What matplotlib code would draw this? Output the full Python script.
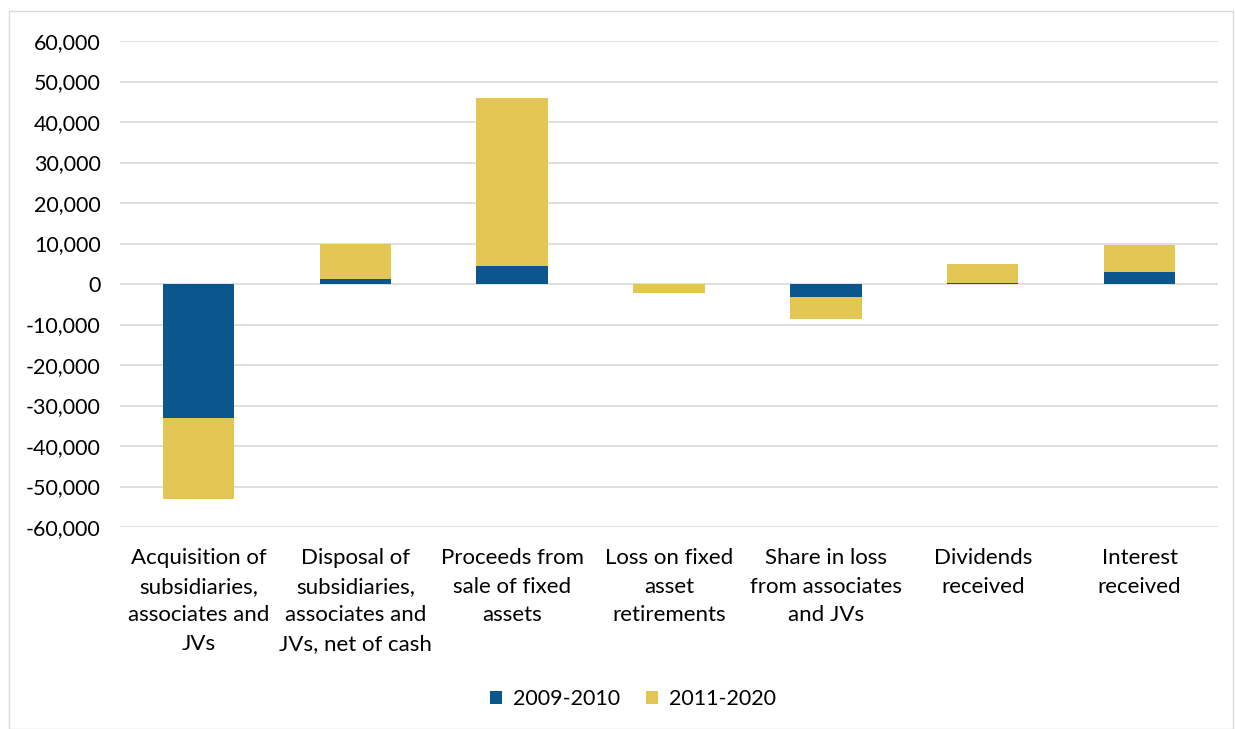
import matplotlib.pyplot as plt
from matplotlib.patches import Rectangle
from matplotlib.ticker import FuncFormatter

categories = ['Acquisition of\nsubsidiaries,\nassociates and\nJVs',
              'Disposal of\nsubsidiaries,\nassociates and\nJVs, net of cash',
              'Proceeds from\nsale of fixed\nassets',
              'Loss on fixed\nasset\nretirements',
              'Share in loss\nfrom associates\nand JVs',
              'Dividends\nreceived',
              'Interest\nreceived']
s2009 = [-33100, 1200, 4400, 0, -3200, 200, 2900]
s2011 = [-19900, 8600, 41500, -2300, -5500, 4700, 6800]

blue = '#0b568c'
yellow = '#e3c653'

plt.rcParams['font.family'] = ['Lato', 'DejaVu Sans']

fig = plt.figure(figsize=(12.35, 7.29), dpi=100)
fig.patches.append(Rectangle((9 / 1235, 0), 1 - 9 / 1235 - 2 / 1235, 1 - 11 / 729,
                             transform=fig.transFigure, fill=False,
                             edgecolor='#d9d9d9', linewidth=1))
ax = fig.add_axes([120 / 1235, 1 - 527 / 729, (1218 - 120) / 1235, (527 - 41) / 729])

x = range(len(categories))
ax.bar(x, s2009, width=0.455, color=blue, label='2009-2010', zorder=3)
bottoms = [a if (a >= 0) == (b >= 0) else 0 for a, b in zip(s2009, s2011)]
ax.bar(x, s2011, width=0.455, bottom=bottoms, color=yellow, label='2011-2020', zorder=3)

ax.set_ylim(-60000, 60000)
ax.set_xlim(-0.5, len(categories) - 0.5)
ax.set_yticks(range(-60000, 60001, 10000))
ax.yaxis.set_major_formatter(FuncFormatter(lambda v, p: f'{int(v):,}'))
ax.grid(axis='y', color='#d9d9d9', linewidth=1.2, zorder=0)
ax.set_xticks(list(x))
ax.set_xticklabels(categories, fontsize=16, linespacing=1.55, va='top')
ax.tick_params(axis='both', length=0, colors='#000000')
ax.tick_params(axis='y', pad=14, labelsize=15.5)
ax.tick_params(axis='x', pad=15)
for s in ax.spines.values():
    s.set_visible(False)

fig.legend(loc='center', bbox_to_anchor=(633 / 1235, 1 - 699 / 729), ncol=2, frameon=False,
           fontsize=15.5, handlelength=0.55, handleheight=0.55, handletextpad=0.5,
           columnspacing=1.2)

fig.savefig('out.png', dpi=100)
